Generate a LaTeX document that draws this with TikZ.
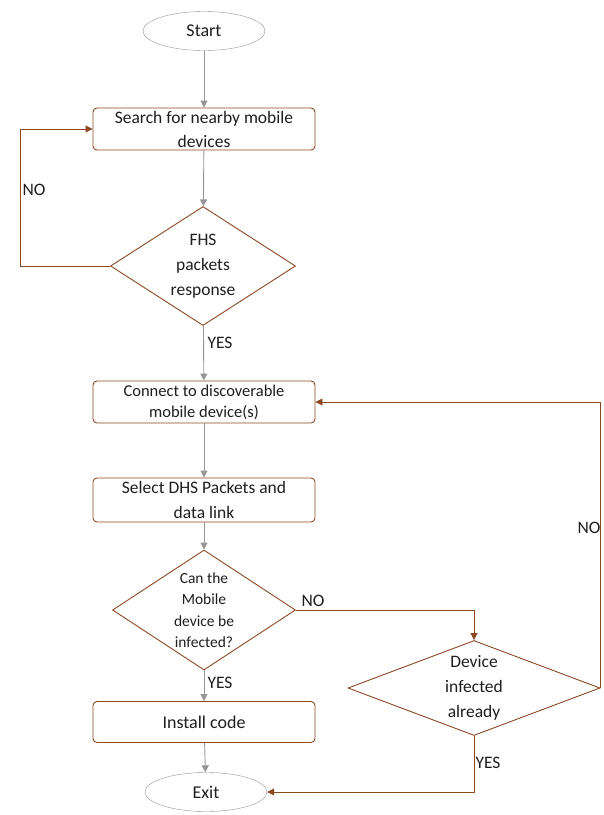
\documentclass[tikz,border=0pt]{standalone}
\usepackage{fontspec}
\setmainfont{Carlito}
\usetikzlibrary{shapes.geometric,arrows.meta}
\definecolor{flowbrown}{RGB}{140,72,32}
\definecolor{flowgray}{RGB}{150,150,150}
\definecolor{flowtext}{RGB}{30,30,30}
\begin{document}
\begin{tikzpicture}[%
            x=1pt, y=-1pt,
            every node/.style={text=flowtext},
            myterm/.style={shape=ellipse, draw=flowgray, fill=white, inner sep=0pt,
                minimum width=122pt, minimum height=39pt, font=\fontsize{18}{20}\selectfont},
            mybox/.style={shape=rectangle, draw=flowbrown, line width=0.9pt, rounded corners=4pt,
                inner sep=0pt, minimum width=222pt, minimum height=42pt, align=center},
            mydecision/.style={shape=diamond, draw=flowbrown, line width=0.9pt, inner sep=-10pt,
                align=center},
            myflow/.style={draw=flowgray, line width=0.9pt, -{Triangle[width=7pt,length=7pt]}},
            myloop/.style={draw=flowbrown, line width=0.9pt, -{Triangle[width=7pt,length=7pt]}},
            mylabel/.style={font=\fontsize{17.5}{19}\selectfont, inner sep=0pt}
    ]
        \useasboundingbox (0,0) rectangle (604,815);

        % terminals
        \node [myterm] (start) at (204,31) {Start};
        \node [myterm] (exit) at (206,792) {Exit};

        % process boxes
        \node [mybox, font=\fontsize{17.5}{24}\selectfont] (search) at (204,129)
            {Search for nearby mobile\\devices};
        \node [mybox, font=\fontsize{16.5}{21}\selectfont] (connect) at (204,402)
            {Connect to discoverable\\mobile device(s)};
        \node [mybox, font=\fontsize{17.5}{25}\selectfont, minimum height=44pt] (select) at (204,500)
            {Select DHS Packets and\\data link};
        \node [mybox, font=\fontsize{18}{20}\selectfont, minimum height=41pt] (install) at (204,722)
            {Install code};

        % decisions
        \node [mydecision, aspect=1.55, minimum width=185pt, minimum height=119pt,
            font=\fontsize{17.5}{25}\selectfont] (fhs) at (203,266)
            {FHS\\packets\\response};
        \node [mydecision, aspect=1.55, minimum width=183pt, minimum height=120pt,
            font=\fontsize{15.5}{21.5}\selectfont] (canbe) at (204,610)
            {Can the\\Mobile\\device be\\infected?};
        \node [mydecision, aspect=2.65, minimum width=252pt, minimum height=95pt,
            font=\fontsize{17.5}{25}\selectfont] (infected) at (474,688)
            {Device\\infected\\already};

        % main flow
        \draw [myflow] (start) -- (search);
        \draw [myflow] (search) -- (fhs);
        \draw [myflow] (fhs) -- (connect);
        \draw [myflow] (connect) -- (select);
        \draw [myflow] (select) -- (canbe);
        \draw [myflow] (canbe) -- (install);
        \draw [myflow] (install) -- (exit);

        % branches
        \coordinate (noloop) at (20,266);
        \draw [myloop] (fhs.west) -- (noloop) |- (search.west);
        \draw [myloop] (canbe.east) -| (infected.north);
        \draw [myloop] (infected.east) |- (connect.east);
        \draw [myloop] (infected.south) |- (exit.east);

        % branch labels
        \node [mylabel] (nofhs) at (34,190) {NO};
        \node [mylabel] (yesfhs) at (220,343) {YES};
        \node [mylabel] (nocan) at (313,601) {NO};
        \node [mylabel] (yescan) at (220,683) {YES};
        \node [mylabel] (noinf) at (589,528) {NO};
        \node [mylabel] (yesinf) at (488,763) {YES};
    \end{tikzpicture}
\end{document}
